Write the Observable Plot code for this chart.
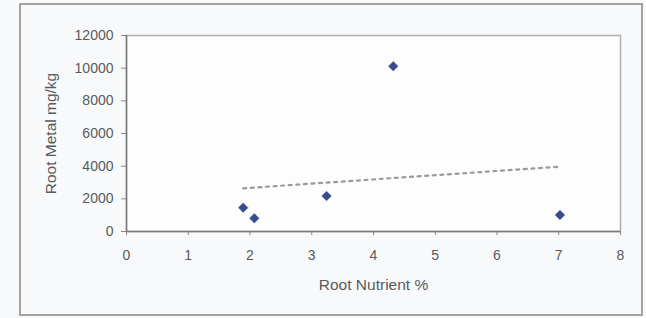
<!DOCTYPE html>
<html>
<head>
<meta charset="utf-8">
<script src="https://cdn.jsdelivr.net/npm/d3@7"></script>
<script src="https://cdn.jsdelivr.net/npm/@observablehq/plot@0.6"></script>
<style>
  html, body { margin: 0; padding: 0; background: #f8f9fa; }
  #wrap { position: relative; width: 646px; height: 318px; }
  #border { position: absolute; left: 19px; top: 3px; width: 620px; height: 309px;
            border: 2px solid #a3a3a3; box-sizing: content-box; pointer-events: none; }
  #chart { position: absolute; left: 0; top: 0; }
</style>
</head>
<body>
<div id="wrap">
  <div id="chart"></div>
  <div id="border"></div>
</div>
<script>
// Data
const nutrient = [1.89, 2.07, 3.24, 4.32, 7.02];      // Root Nutrient %
const metal    = [1460, 810, 2170, 10120, 1010];      // Root Metal mg/kg
const xTicks = [0, 1, 2, 3, 4, 5, 6, 7, 8];
const yTicks = [0, 2000, 4000, 6000, 8000, 10000, 12000];

const data = nutrient.map((x, i) => ({x, y: metal[i]}));

const chart = Plot.plot({
  width: 646,
  height: 318,
  marginLeft: 126,
  marginRight: 26,
  marginTop: 35,
  marginBottom: 87,
  style: {fontFamily: "'Liberation Sans', Arial, sans-serif", fontSize: "14px", color: "#5a5a5a", background: "transparent"},
  x: {domain: [0, 8]},
  y: {domain: [0, 12000]},
  marks: [
    Plot.rect([0], {x1: 0, x2: 8, y1: 0, y2: 12000, fill: "#fdfdfd"}),
    Plot.frame({stroke: "#b0b0b0", strokeWidth: 1.5}),
    Plot.axisY({ticks: yTicks, tickSize: 0, tickFormat: () => "",
      label: "Root Metal mg/kg", labelAnchor: "center", labelArrow: "none", labelOffset: 82, fontSize: 15.5}),
    Plot.axisY({ticks: yTicks, tickSize: 5, tickPadding: 8, tickFormat: d => String(d), stroke: "#888",
      label: null, fontSize: 14}),
    Plot.axisX({ticks: xTicks, tickSize: 4, tickPadding: 15, stroke: "#888", label: null, fontSize: 14}),
    Plot.axisX({ticks: xTicks, tickSize: 0, tickFormat: () => "", label: "Root Nutrient %", labelAnchor: "center",
      labelArrow: "none", labelOffset: 58, fontSize: 15.5}),
    Plot.ruleY([0], {stroke: "#7a7a7a", strokeWidth: 1.5}),
    Plot.ruleX([0], {stroke: "#7a7a7a", strokeWidth: 1.5}),
    Plot.linearRegressionY(data, {x: "x", y: "y", ci: 0, stroke: "#9a9a9a", strokeWidth: 2.2, strokeDasharray: "3,4.6"}),
    Plot.dot(data, {x: "x", y: "y", symbol: "diamond2", r: 4.3, fill: "#3b4a8e", stroke: "#3b4a8e", strokeWidth: 0.5})
  ]
});
document.getElementById("chart").appendChild(chart);
</script>
</body>
</html>
